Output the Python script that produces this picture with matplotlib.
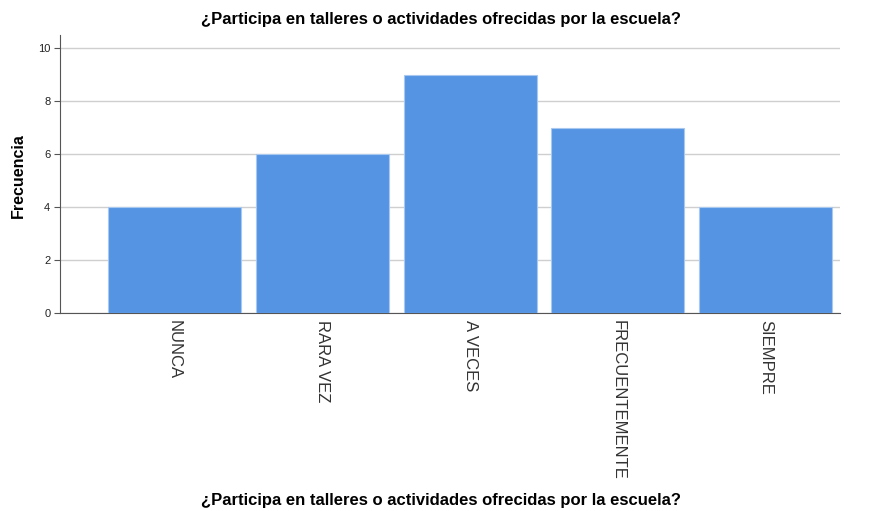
import matplotlib
matplotlib.use("Agg")
import matplotlib.pyplot as plt

categories = ["NUNCA", "RARA VEZ", "A VECES", "FRECUENTEMENTE", "SIEMPRE"]
values = [4, 6, 9, 7, 4]
yticks = [0, 2, 4, 6, 8, 10]
title = "¿Participa en talleres o actividades ofrecidas por la escuela?"

plt.rcParams['font.family'] = ['Liberation Sans', 'DejaVu Sans']

fig = plt.figure(figsize=(8.69, 5.11), dpi=100)
W, H = 869, 511
ax = fig.add_axes([60 / W, (H - 313) / H, (840 - 60) / W, (313 - 35) / H])

x = list(range(len(categories)))
ax.bar(x, values, width=0.9, color="#5594E3", edgecolor="#A9C8F0", linewidth=0.8, zorder=3)

ax.set_xlim(-0.775, 4.504)
ax.set_ylim(0, 10.5)
ax.set_yticks(yticks)
ax.set_yticklabels([str(t) for t in yticks], fontsize=8, color="#222222")
ax.set_xticks(x)
ax.set_xticklabels(categories, rotation=270, fontsize=12, color="#333333")
ax.tick_params(axis='x', length=0, pad=5)
ax.tick_params(axis='y', length=4, width=0.8, color="#555555", pad=3)

ax.grid(axis='y', color="#CFCFCF", linewidth=1.0, zorder=0)
for s in ["top", "right"]:
    ax.spines[s].set_visible(False)
ax.spines["left"].set_color("#555555")
ax.spines["bottom"].set_color("#555555")
ax.spines["left"].set_linewidth(0.8)
ax.spines["bottom"].set_linewidth(0.8)

fig.text(18 / W, (H - 176) / H, "Frecuencia", rotation=90, ha="center", va="center",
         fontsize=11.5, fontweight="bold")
fig.text(441 / W, (H - 19) / H, title, ha="center", va="center", fontsize=12, fontweight="bold")
fig.text(441 / W, (H - 500) / H, title, ha="center", va="center", fontsize=12, fontweight="bold")

fig.savefig("out.png", dpi=100)
